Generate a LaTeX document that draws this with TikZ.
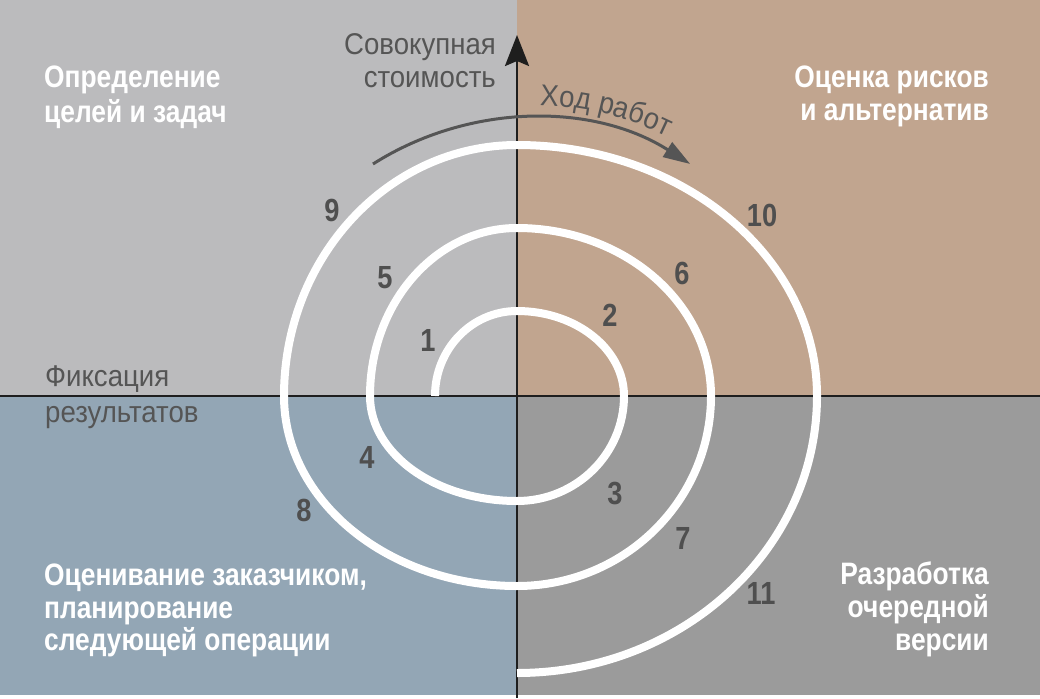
\documentclass[tikz,border=0pt]{standalone}
\usepackage{fontspec}
\setmainfont{Liberation Sans}
\newfontfamily\bfc[FakeStretch=0.85]{Liberation Sans}
\newfontfamily\rgc[FakeStretch=0.92]{Liberation Sans}
\usetikzlibrary{arrows.meta,decorations.text}
\definecolor{qTL}{HTML}{BBBBBD}
\definecolor{qTR}{HTML}{C1A58F}
\definecolor{qBL}{HTML}{93A6B5}
\definecolor{qBR}{HTML}{9B9B9B}
\definecolor{numc}{HTML}{4F4F4F}
\definecolor{axc}{HTML}{555555}
\definecolor{axline}{HTML}{1E1E1E}
\tikzset{
  quadlab/.style={font=\bfc\bfseries\fontsize{31}{33}\selectfont, text=white, inner sep=0pt},
  axlab/.style={font=\rgc\fontsize{30}{33}\selectfont, text=axc, inner sep=0pt},
  numlab/.style={font=\bfc\bfseries\fontsize{32}{33}\selectfont, text=numc, inner sep=0pt},
  axisline/.style={draw=axline, line width=2.6pt},
  spiralline/.style={draw=white, line width=8pt, line cap=butt},
  progress/.style={draw=axc, line width=3pt, -{Triangle[length=27pt,width=17pt]}}
}
\begin{document}
\begin{tikzpicture}[x=1pt,y=-1pt]
\useasboundingbox (0,0) rectangle (1040,698);
% quadrants
\fill[qTL] (0,0) rectangle (517,396);
\fill[qTR] (517,0) rectangle (1040,396);
\fill[qBL] (0,396) rectangle (517,698);
\fill[qBR] (517,396) rectangle (1040,698);
\fill[white] (0,695) rectangle (1040,698);
% axes
\coordinate (vb) at (517,698);
\coordinate (vt) at (517,35);
\coordinate (hl) at (0,396);
\coordinate (hr) at (1040,396);
\draw[axisline] (hl) -- (hr);
\draw[axisline, -{Stealth[length=31pt,width=24pt,inset=5pt]}] (vb) -- (vt);
% spiral
\coordinate (s0) at (435,396);
\draw[spiralline] (s0)
  arc[start angle=180, end angle=270, x radius=82, y radius=85]
  arc[start angle=-90, end angle=0, x radius=107, y radius=85]
  arc[start angle=0, end angle=90, x radius=107, y radius=105]
  arc[start angle=90, end angle=180, x radius=147, y radius=105]
  arc[start angle=180, end angle=270, x radius=147, y radius=168]
  arc[start angle=-90, end angle=0, x radius=194, y radius=168]
  arc[start angle=0, end angle=90, x radius=194, y radius=190]
  arc[start angle=90, end angle=180, x radius=233, y radius=190]
  arc[start angle=180, end angle=270, x radius=233, y radius=251]
  arc[start angle=-90, end angle=0, x radius=300, y radius=251]
  arc[start angle=0, end angle=90, x radius=300, y radius=277];
% progress arrow
\coordinate (p0) at (373,164);
\draw[progress] (p0) arc[start angle=237.6, end angle=302.4, radius=296];
\coordinate (t0) at (510,105.8);
\path[decorate, decoration={text along path, text align=center,
  text={|\rgc\fontsize{30}{33}\selectfont\color{axc}|Ход работ}}]
  (t0) arc[start angle=266, end angle=301.6, radius=309];
% quadrant labels
\node[quadlab, anchor=base west] (tl1) at (44,88) {Определение};
\node[quadlab, anchor=base west] (tl2) at (44,122) {целей и задач};
\node[quadlab, anchor=base east] (tr1) at (989,88) {Оценка рисков};
\node[quadlab, anchor=base east] (tr2) at (989,121) {и альтернатив};
\node[quadlab, anchor=base west] (bl1) at (44,585) {Оценивание заказчиком,};
\node[quadlab, anchor=base west] (bl2) at (44,618) {планирование};
\node[quadlab, anchor=base west] (bl3) at (44,650) {следующей операции};
\node[quadlab, anchor=base east] (br1) at (989,584) {Разработка};
\node[quadlab, anchor=base east] (br2) at (989,617) {очередной};
\node[quadlab, anchor=base east] (br3) at (989,650) {версии};
% axis labels
\node[axlab, anchor=base east] (ay1) at (496,55) {Совокупная};
\node[axlab, anchor=base east] (ay2) at (496,88) {стоимость};
\node[axlab, anchor=base west] (ax1) at (45,386) {Фиксация};
\node[axlab, anchor=base west] (ax2) at (45,422) {результатов};
% numbers
\node[numlab] (n1) at (428,340) {1};
\node[numlab] (n2) at (610,315) {2};
\node[numlab] (n3) at (615,494) {3};
\node[numlab] (n4) at (367,457) {4};
\node[numlab] (n5) at (385,278) {5};
\node[numlab] (n6) at (682,273) {6};
\node[numlab] (n7) at (683,538) {7};
\node[numlab] (n8) at (304,510) {8};
\node[numlab] (n9) at (332,210) {9};
\node[numlab] (n10) at (762,215) {10};
\node[numlab] (n11) at (761,593) {11};
\end{tikzpicture}
\end{document}
